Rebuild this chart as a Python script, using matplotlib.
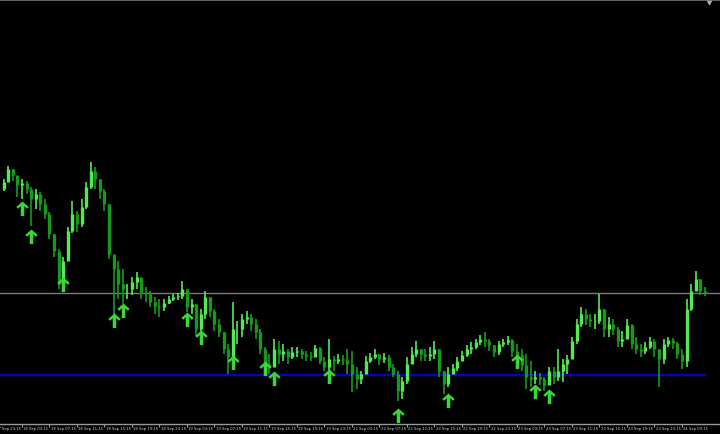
import numpy as np
import matplotlib
matplotlib.use("Agg")
import matplotlib.pyplot as plt
from matplotlib.path import Path
from matplotlib.transforms import blended_transform_factory

# 40-min bars (prices)
high = [1.2814, 1.2820, 1.2833, 1.2830, 1.2822, 1.2820, 1.2818, 1.2812, 1.2810, 1.2807,
        1.2800, 1.2787, 1.2765, 1.2750, 1.2742, 1.2772, 1.2798, 1.2788, 1.2800, 1.2817,
        1.2837, 1.2832, 1.2820, 1.2810, 1.2795, 1.2742, 1.2738, 1.2730, 1.2715, 1.2722,
        1.2727, 1.2717, 1.2712, 1.2708, 1.2702, 1.2700, 1.2700, 1.2703, 1.2705, 1.2706,
        1.2718, 1.2710, 1.2700, 1.2695, 1.2690, 1.2708, 1.2702, 1.2690, 1.2680, 1.2667,
        1.2655, 1.2697, 1.2678, 1.2685, 1.2688, 1.2685, 1.2680, 1.2670, 1.2652, 1.2645,
        1.2660, 1.2658, 1.2655, 1.2650, 1.2652, 1.2652, 1.2650, 1.2648, 1.2647, 1.2654,
        1.2652, 1.2642, 1.2660, 1.2643, 1.2645, 1.2644, 1.2650, 1.2648, 1.2632, 1.2628,
        1.2643, 1.2646, 1.2650, 1.2645, 1.2646, 1.2644, 1.2635, 1.2628, 1.2622, 1.2642,
        1.2652, 1.2658, 1.2650, 1.2650, 1.2652, 1.2658, 1.2650, 1.2628, 1.2632, 1.2635,
        1.2642, 1.2648, 1.2654, 1.2657, 1.2660, 1.2664, 1.2667, 1.2660, 1.2654, 1.2658,
        1.2660, 1.2663, 1.2660, 1.2655, 1.2650, 1.2645, 1.2638, 1.2628, 1.2626, 1.2622,
        1.2632, 1.2632, 1.2650, 1.2640, 1.2644, 1.2662, 1.2680, 1.2692, 1.2690, 1.2685,
        1.2685, 1.2705, 1.2690, 1.2682, 1.2680, 1.2672, 1.2668, 1.2680, 1.2675, 1.2662,
        1.2655, 1.2657, 1.2662, 1.2660, 1.2650, 1.2660, 1.2662, 1.2661, 1.2657, 1.2650,
        1.2700, 1.2715, 1.2728, 1.2720, 1.2712]
low = [1.2807, 1.2808, 1.2822, 1.2818, 1.2802, 1.2800, 1.2805, 1.2773, 1.2790, 1.2788,
       1.2780, 1.2760, 1.2742, 1.2710, 1.2708, 1.2738, 1.2766, 1.2767, 1.2772, 1.2790,
       1.2810, 1.2810, 1.2800, 1.2788, 1.2740, 1.2675, 1.2700, 1.2695, 1.2700, 1.2704,
       1.2710, 1.2700, 1.2697, 1.2692, 1.2685, 1.2682, 1.2688, 1.2695, 1.2698, 1.2699,
       1.2700, 1.2687, 1.2685, 1.2663, 1.2667, 1.2680, 1.2682, 1.2668, 1.2662, 1.2645,
       1.2625, 1.2640, 1.2655, 1.2662, 1.2675, 1.2668, 1.2660, 1.2645, 1.2630, 1.2625,
       1.2632, 1.2635, 1.2638, 1.2635, 1.2640, 1.2642, 1.2640, 1.2638, 1.2638, 1.2645,
       1.2635, 1.2628, 1.2628, 1.2628, 1.2635, 1.2634, 1.2625, 1.2607, 1.2610, 1.2615,
       1.2625, 1.2636, 1.2640, 1.2634, 1.2636, 1.2628, 1.2622, 1.2598, 1.2600, 1.2615,
       1.2635, 1.2642, 1.2638, 1.2638, 1.2638, 1.2640, 1.2622, 1.2605, 1.2612, 1.2625,
       1.2628, 1.2638, 1.2642, 1.2645, 1.2650, 1.2654, 1.2652, 1.2648, 1.2642, 1.2644,
       1.2652, 1.2654, 1.2642, 1.2638, 1.2628, 1.2610, 1.2612, 1.2615, 1.2614, 1.2608,
       1.2615, 1.2615, 1.2618, 1.2617, 1.2625, 1.2640, 1.2655, 1.2672, 1.2674, 1.2672,
       1.2670, 1.2675, 1.2662, 1.2662, 1.2664, 1.2652, 1.2652, 1.2660, 1.2650, 1.2645,
       1.2642, 1.2645, 1.2650, 1.2642, 1.2612, 1.2635, 1.2652, 1.2650, 1.2640, 1.2630,
       1.2632, 1.2688, 1.2708, 1.2704, 1.2703]
close = [1.2810, 1.2817, 1.2830, 1.2824, 1.2814, 1.2816, 1.2810, 1.2800, 1.2805, 1.2795,
         1.2785, 1.2765, 1.2748, 1.2715, 1.2738, 1.2768, 1.2785, 1.2775, 1.2792, 1.2812,
         1.2828, 1.2820, 1.2808, 1.2795, 1.2745, 1.2730, 1.2715, 1.2710, 1.2710, 1.2717,
         1.2722, 1.2707, 1.2705, 1.2697, 1.2693, 1.2692, 1.2696, 1.2700, 1.2702, 1.2703,
         1.2710, 1.2692, 1.2695, 1.2670, 1.2685, 1.2702, 1.2688, 1.2675, 1.2667, 1.2650,
         1.2642, 1.2670, 1.2670, 1.2680, 1.2682, 1.2675, 1.2667, 1.2650, 1.2635, 1.2632,
         1.2650, 1.2645, 1.2648, 1.2642, 1.2647, 1.2648, 1.2645, 1.2643, 1.2642, 1.2651,
         1.2638, 1.2632, 1.2640, 1.2638, 1.2640, 1.2639, 1.2635, 1.2625, 1.2620, 1.2625,
         1.2638, 1.2642, 1.2645, 1.2640, 1.2642, 1.2632, 1.2625, 1.2608, 1.2618, 1.2635,
         1.2645, 1.2650, 1.2645, 1.2643, 1.2645, 1.2650, 1.2628, 1.2615, 1.2625, 1.2631,
         1.2638, 1.2644, 1.2650, 1.2652, 1.2657, 1.2660, 1.2658, 1.2654, 1.2647, 1.2655,
         1.2657, 1.2659, 1.2648, 1.2644, 1.2634, 1.2622, 1.2620, 1.2622, 1.2620, 1.2614,
         1.2628, 1.2622, 1.2628, 1.2635, 1.2640, 1.2658, 1.2675, 1.2685, 1.2680, 1.2678,
         1.2678, 1.2690, 1.2670, 1.2675, 1.2670, 1.2658, 1.2660, 1.2674, 1.2655, 1.2650,
         1.2648, 1.2652, 1.2658, 1.2650, 1.2640, 1.2655, 1.2659, 1.2656, 1.2645, 1.2638,
         1.2690, 1.2708, 1.2720, 1.2708, 1.2706]

# signal arrows: bar index and price of the arrow tip
arrow_bar = [5, 7, 14, 25, 27, 41, 44, 51, 58, 60, 72, 87, 98, 113, 117, 120]
arrow_price = [1.2798, 1.2770, 1.2722, 1.2686, 1.2696, 1.2687, 1.2669, 1.2644,
               1.2638, 1.2628, 1.2630, 1.2591, 1.2606, 1.2645, 1.2615, 1.2610]

level_gray = 1.2706
level_blue = 1.2624

time_labels = ["17 Sep 23:15", "18 Sep 03:15", "18 Sep 07:15", "18 Sep 11:15",
               "18 Sep 15:15", "18 Sep 19:15", "18 Sep 23:15", "19 Sep 03:15",
               "19 Sep 07:15", "19 Sep 11:15", "19 Sep 15:15", "19 Sep 19:15",
               "19 Sep 23:15", "22 Sep 03:15", "22 Sep 07:15", "22 Sep 11:15",
               "22 Sep 15:15", "22 Sep 19:15", "22 Sep 23:15", "23 Sep 03:15",
               "23 Sep 07:15", "23 Sep 11:15", "23 Sep 15:15", "23 Sep 19:15",
               "23 Sep 23:15", "24 Sep 03:15"]
label_step = 6  # bars between time labels

UP = "#55ea55"
DOWN = "#169a1e"
ARROW = "#3ad63a"

high = np.array(high); low = np.array(low); close = np.array(close)
x = np.arange(len(close))
opn = np.r_[close[0], close[:-1]]
cols = [UP if c >= o else DOWN for o, c in zip(opn, close)]

fig = plt.figure(figsize=(7.2, 4.35), dpi=100, facecolor="black")
ax = fig.add_axes([0, 10 / 435, 1, 425 / 435], facecolor="black")

ax.axhline(level_gray, color="#7a7a7a", lw=1.0, zorder=1)
ax.hlines(level_blue, -1, x[-1] + 0.2, color="#0000d0", lw=1.6, zorder=1)

ax.vlines(x, low, high, colors=cols, lw=1.2, zorder=2)
ax.vlines(x, opn, close, colors=cols, lw=2.4, zorder=2)

# up arrow, tip at the origin
verts = [(0, 0), (0.85, -0.75), (0.6, -1.0), (0.24, -0.64), (0.24, -2.0),
         (-0.24, -2.0), (-0.24, -0.64), (-0.6, -1.0), (-0.85, -0.75), (0, 0)]
arrow = Path(verts, [Path.MOVETO] + [Path.LINETO] * 8 + [Path.CLOSEPOLY])
ax.plot(arrow_bar, arrow_price, ls="none", marker=arrow, ms=21,
        color=ARROW, mec="none", zorder=3)

ax.set_xlim(0.2, 157.3)
ax.set_ylim(1.2575, 1.3000)
ax.set_xticks([]); ax.set_yticks([])
for s in ["left", "right"]:
    ax.spines[s].set_visible(False)
ax.spines["bottom"].set_color("#9a9a9a"); ax.spines["bottom"].set_linewidth(1.0)
ax.spines["top"].set_color("#6e6e6e"); ax.spines["top"].set_linewidth(2.0)

# time scale along the bottom
tick_pos = [-1 + label_step * k for k in range(len(time_labels))]
tr = blended_transform_factory(ax.transData, ax.transAxes)
ax.vlines(tick_pos, -3 / 425, 0, transform=tr, colors="#9a9a9a", lw=0.8, clip_on=False)
for p, t in zip(tick_pos, time_labels):
    ax.annotate(t, (p, 0), xycoords=tr, xytext=(1.0, -1.2), textcoords="offset points",
                ha="left", va="top", fontsize=2.7, color="#d8d8d8",
                family="DejaVu Sans", annotation_clip=False)

# chart shift marker, top right
ax.plot([0.985], [0.993], transform=ax.transAxes, marker="v", ms=3,
        color="#b0b0b0", clip_on=False)

fig.savefig("out.png", dpi=100, facecolor="black")
